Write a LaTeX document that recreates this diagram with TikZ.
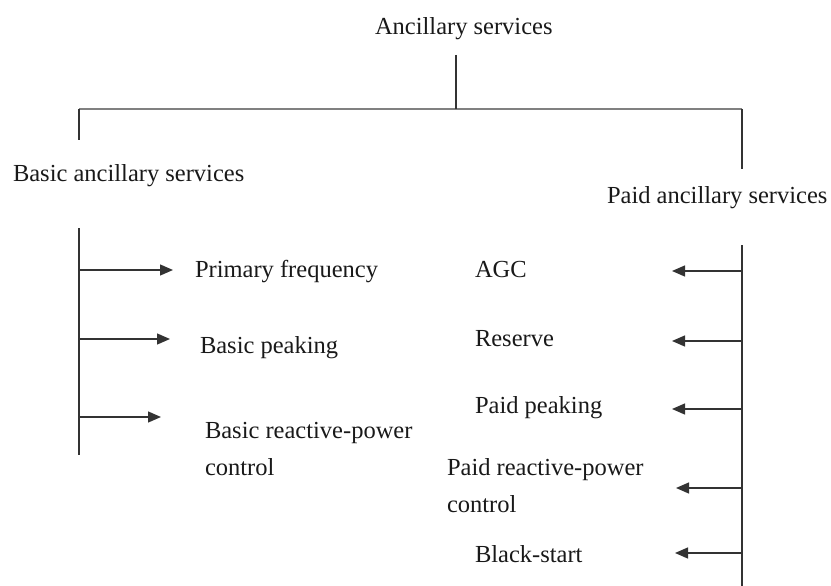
\documentclass[tikz,border=0pt]{standalone}
\usepackage{fontspec}
\setmainfont{Liberation Serif}
\usetikzlibrary{arrows.meta}

\begin{document}
\begin{tikzpicture}[x=1pt,y=-1pt,
  lbl/.style={anchor=base west,inner sep=0pt,outer sep=0pt,text=black!90,
    font=\fontsize{24.5}{37}\selectfont},
  lbl2/.style={lbl,align=left},
  trunk/.style={draw=black!80,line width=1.3pt},
  bar/.style={draw=black!50,line width=2pt},
  arr/.style={draw=black!80,line width=1.3pt,-{Triangle[length=13pt,width=11pt]}}]

  \useasboundingbox (0,0) rectangle (831,586);

  % headings
  \node[lbl] (root) at (375,35) {Ancillary services};
  \node[lbl] (basic) at (13,182) {Basic ancillary services};
  \node[lbl] (paid) at (607,203) {Paid ancillary services};

  % top branching
  \coordinate (rootfoot) at (456,55);
  \coordinate (join) at (456,109);
  \coordinate (lcorner) at (79,109);
  \coordinate (rcorner) at (742,109);
  \coordinate (lstub) at (79,140);
  \coordinate (rstub) at (742,169);
  \draw[bar] (lcorner) -- (rcorner);
  \draw[trunk] (rootfoot) -- (join);
  \draw[trunk] (lcorner) -- (lstub);
  \draw[trunk] (rcorner) -- (rstub);

  % basic services
  \coordinate (ltop) at (79,228);
  \coordinate (lbot) at (79,455);
  \draw[trunk] (ltop) -- (lbot);

  \node[lbl] (pf) at (195,277) {Primary frequency};
  \node[lbl] (bp) at (200,353) {Basic peaking};
  % two-line labels: the base anchor sits on the last line
  \node[lbl2] (brp) at (205,475) {Basic reactive-power\\control};

  \coordinate (l1) at (79,270);  \coordinate (t1) at (173,270);
  \coordinate (l2) at (79,339);  \coordinate (t2) at (170,339);
  \coordinate (l3) at (79,417);  \coordinate (t3) at (161,417);
  \draw[arr] (l1) -- (t1);
  \draw[arr] (l2) -- (t2);
  \draw[arr] (l3) -- (t3);

  % paid services
  \coordinate (rtop) at (742,245);
  \coordinate (rbot) at (742,586);
  \draw[trunk] (rtop) -- (rbot);

  \node[lbl] (agc) at (475,277) {AGC};
  \node[lbl] (res) at (475,346) {Reserve};
  \node[lbl] (pp) at (475,413) {Paid peaking};
  \node[lbl2] (prp) at (447,512) {Paid reactive-power\\control};
  \node[lbl] (bs) at (475,562) {Black-start};

  \coordinate (r1) at (742,271); \coordinate (s1) at (672,271);
  \coordinate (r2) at (742,341); \coordinate (s2) at (672,341);
  \coordinate (r3) at (742,409); \coordinate (s3) at (672,409);
  \coordinate (r4) at (742,488); \coordinate (s4) at (676,488);
  \coordinate (r5) at (742,553); \coordinate (s5) at (675,553);
  \draw[arr] (r1) -- (s1);
  \draw[arr] (r2) -- (s2);
  \draw[arr] (r3) -- (s3);
  \draw[arr] (r4) -- (s4);
  \draw[arr] (r5) -- (s5);
\end{tikzpicture}
\end{document}
